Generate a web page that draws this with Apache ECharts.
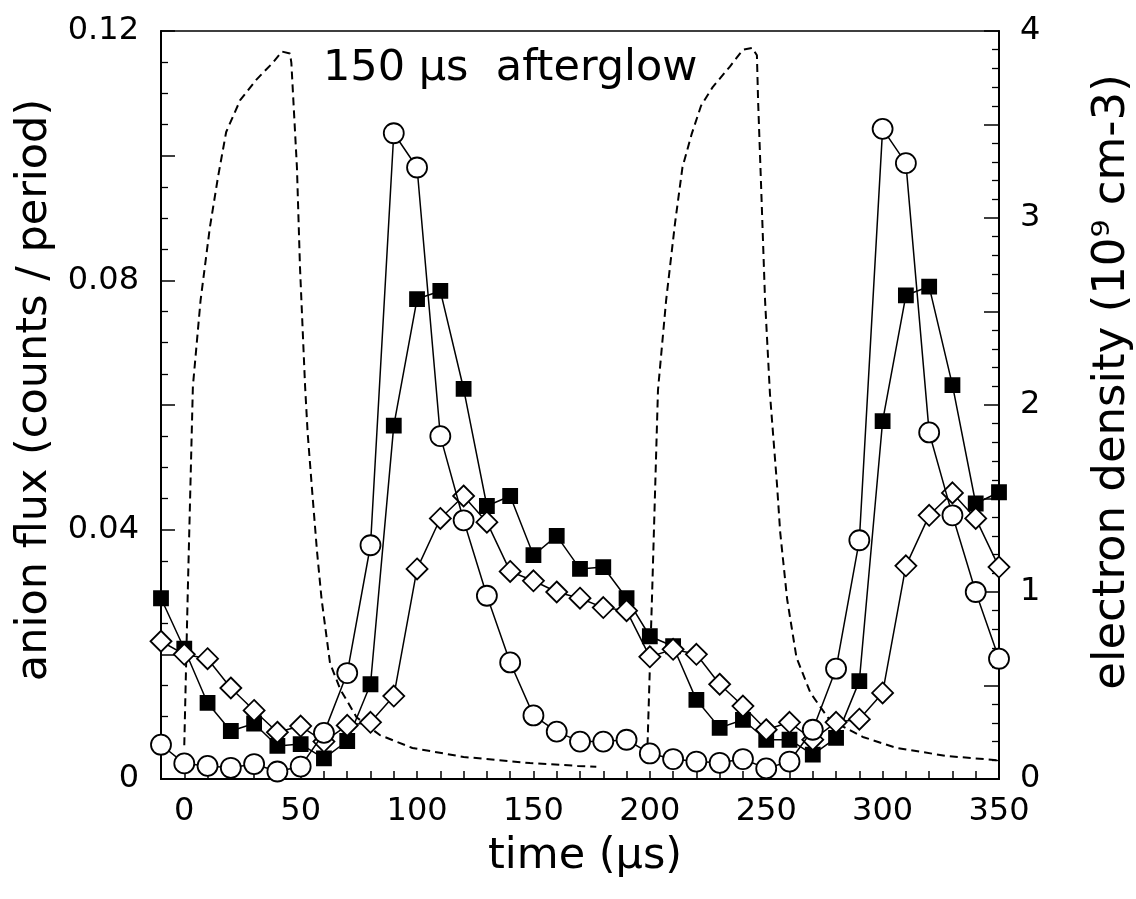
<!DOCTYPE html>
<html>
<head>
<meta charset="utf-8">
<style>html,body{margin:0;padding:0;background:#fff}#c{width:1136px;height:899px}</style>
<script src="https://cdn.jsdelivr.net/npm/echarts@6/dist/echarts.min.js"></script>
</head>
<body>
<div id="c"></div>
<script>
// time (µs)
const times = [-10,0,10,20,30,40,50,60,70,80,90,100,110,120,130,140,150,160,170,180,190,200,210,220,230,240,250,260,270,280,290,300,310,320,330,340,350];
// open circles
const circles = [0.0055,0.0025,0.0021,0.0018,0.0024,0.0012,0.0020,0.0074,0.0170,0.0375,0.1036,0.0981,0.0550,0.0415,0.0294,0.0187,0.0102,0.0076,0.0060,0.0060,0.0063,0.0041,0.0032,0.0028,0.0026,0.0032,0.0017,0.0028,0.0079,0.0177,0.0383,0.1043,0.0988,0.0556,0.0423,0.0300,0.0193];
// filled squares
const squares = [0.0290,0.0209,0.0122,0.0077,0.0089,0.0053,0.0056,0.0033,0.0061,0.0152,0.0567,0.0770,0.0783,0.0626,0.0438,0.0454,0.0359,0.0390,0.0337,0.0340,0.0290,0.0229,0.0213,0.0127,0.0082,0.0095,0.0063,0.0063,0.0039,0.0066,0.0157,0.0574,0.0776,0.0790,0.0632,0.0442,0.0460];
// open diamonds
const diamonds = [0.0221,0.0200,0.0193,0.0146,0.0110,0.0075,0.0085,0.0060,0.0086,0.0091,0.0133,0.0337,0.0418,0.0454,0.0412,0.0333,0.0318,0.0300,0.0290,0.0275,0.0270,0.0196,0.0208,0.0200,0.0152,0.0117,0.0079,0.0091,0.0063,0.0091,0.0096,0.0138,0.0342,0.0423,0.0459,0.0418,0.0340];
// electron density trace (10^9 cm-3), first cycle
const eTime1 = [0,1.5,3.7,7,11,14.5,18,24,31,38,42,45.4,46,48.4,49.7,51.9,53,55,57,59,62.6,67,74,84,98,120,148.5,169,177];
const eDens1 = [0.18,1.0,2.1,2.56,2.95,3.22,3.46,3.63,3.74,3.83,3.89,3.88,3.83,3.27,2.74,2.1,1.85,1.53,1.22,0.96,0.62,0.48,0.33,0.235,0.166,0.118,0.085,0.07,0.065];
// second cycle
const eTime2 = [199,201,203.5,207,210.8,214,218,222,227,234.4,240,244,246,246.5,248,249.5,251.6,254.6,256,259,263,269,277,291.5,306,327.6,349.5];
const eDens2 = [0.18,1.0,2.08,2.56,2.97,3.27,3.45,3.6,3.7,3.81,3.9,3.91,3.87,3.63,3.1,2.56,2.06,1.58,1.32,0.96,0.65,0.46,0.32,0.225,0.166,0.123,0.10];
// tick labels
const xLabels = [0,50,100,150,200,250,300,350];
const yLeftLabels = ['0','0.04','0.08','0.12'];
const yRightLabels = ['0','1','2','3','4'];

const FONT = 'DejaVu Sans';
const pairs = (xs, ys) => xs.map((x, i) => [x, ys[i]]);
const eData = pairs(eTime1, eDens1).concat([[188, null]], pairs(eTime2, eDens2));

const chart = echarts.init(document.getElementById('c'), null, {renderer: 'canvas'});
const markerSeries = (data, symbol, size, fill, z) => ({
  type: 'line', data: pairs(times, data), yAxisIndex: 0,
  symbol: symbol, symbolSize: size, showAllSymbol: true, clip: false, z: z,
  lineStyle: {color: '#000', width: 1.5},
  itemStyle: {color: fill, borderColor: '#000', borderWidth: 1.8},
  emphasis: {disabled: true}, animation: false
});

chart.setOption({
  animation: false,
  grid: {left: 161, right: 137, top: 31, bottom: 120, show: true, borderColor: '#000', borderWidth: 1.5},
  xAxis: {
    type: 'value', min: -10, max: 350, interval: 10,
    axisLine: {onZero: false, lineStyle: {color: '#000', width: 2}},
    axisTick: {inside: true, length: 8, lineStyle: {color: '#000', width: 1.5}},
    splitLine: {show: false},
    axisLabel: {
      margin: 17, color: '#000', fontFamily: FONT, fontSize: 32,
      formatter: v => xLabels.indexOf(Math.round(v)) >= 0 ? String(Math.round(v)) : ''
    }
  },
  yAxis: [{
    type: 'value', min: 0, max: 0.12, interval: 0.02, position: 'left',
    axisLine: {show: true, onZero: false, lineStyle: {color: '#000', width: 2}},
    axisTick: {show: true, inside: true, length: 14, lineStyle: {color: '#000', width: 1.5}},
    minorTick: {show: true, splitNumber: 4, length: 7, lineStyle: {color: '#000', width: 1.3}},
    splitLine: {show: false},
    axisLabel: {
      margin: 22, color: '#000', fontFamily: FONT, fontSize: 32,
      formatter: v => { const k = Math.round(v * 100); return k % 4 === 0 ? yLeftLabels[k / 4] : ''; }
    }
  }, {
    type: 'value', min: 0, max: 4, interval: 0.5, position: 'right',
    axisLine: {show: true, onZero: false, lineStyle: {color: '#000', width: 2}},
    axisTick: {show: true, inside: true, length: 15, lineStyle: {color: '#000', width: 1.5}},
    minorTick: {show: true, splitNumber: 5, length: 7, lineStyle: {color: '#000', width: 1.3}},
    splitLine: {show: false},
    axisLabel: {
      margin: 21, color: '#000', fontFamily: FONT, fontSize: 32,
      formatter: v => { const k = Math.round(v * 2); return k % 2 === 0 ? yRightLabels[k / 2] : ''; }
    }
  }],
  series: [
    {
      type: 'line', data: eData, yAxisIndex: 1, showSymbol: false, connectNulls: false, clip: false, z: 1,
      lineStyle: {color: '#000', width: 2, type: [8, 5]}, emphasis: {disabled: true}
    },
    markerSeries(squares, 'rect', 14, '#000', 2),
    markerSeries(diamonds, 'diamond', 21, '#fff', 3),
    markerSeries(circles, 'circle', 20, '#fff', 4)
  ],
  graphic: [
    {type: 'text', left: 323, top: 47, z: 10,
     style: {text: '150 \u00b5s  afterglow', fontFamily: FONT, fontSize: 43, fill: '#000'}},
    {type: 'text', x: 35, y: 390, rotation: Math.PI / 2, z: 10,
     style: {text: 'anion flux (counts / period)', fontFamily: FONT, fontSize: 43, fill: '#000', align: 'center', verticalAlign: 'middle'}},
    {type: 'text', x: 1112, y: 382, rotation: Math.PI / 2, z: 10,
     style: {text: 'electron density (10\u2079 cm-3)', fontFamily: FONT, fontSize: 45, fill: '#000', align: 'center', verticalAlign: 'middle'}},
    {type: 'text', x: 585, y: 857, z: 10,
     style: {text: 'time (\u00b5s)', fontFamily: FONT, fontSize: 43, fill: '#000', align: 'center', verticalAlign: 'middle'}}
  ]
});
</script>
</body>
</html>
